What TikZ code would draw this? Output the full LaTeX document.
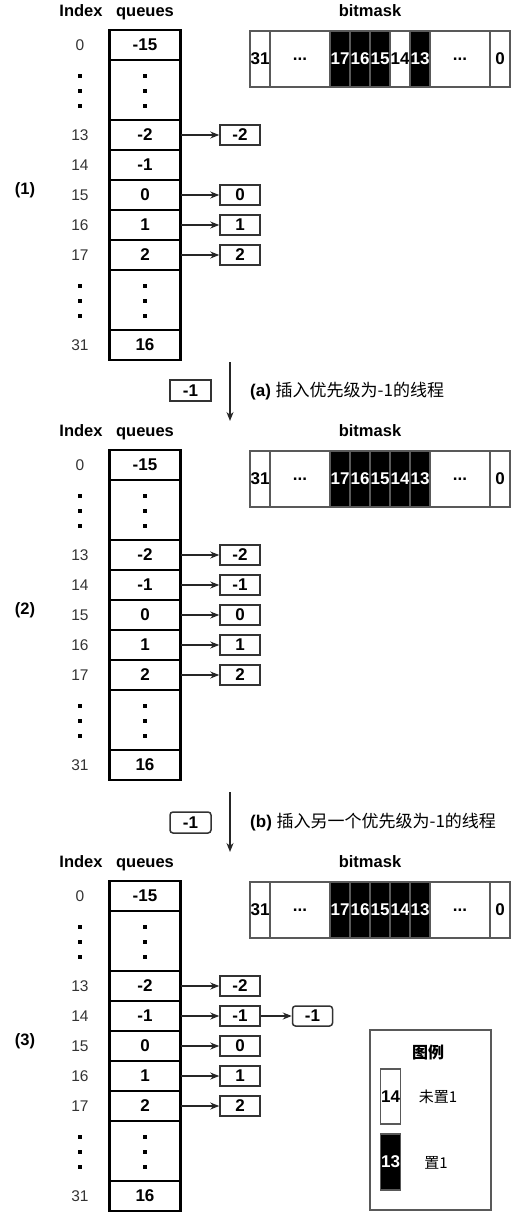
\documentclass[tikz,border=0pt]{standalone}
\usepackage{fontspec}
\setmainfont{Liberation Sans}
\newfontfamily\cjk{Noto Sans CJK SC}
\usetikzlibrary{arrows.meta,positioning,calc}

\begin{document}
\begin{tikzpicture}[x=1pt, y=-1pt,
    cell/.style={rectangle, draw=black, line width=2.5pt, outer sep=0pt, minimum width=71pt, minimum height=#1, inner sep=0pt, font=\fontsize{17}{20}\selectfont\bfseries},
    cell/.default=30pt,
    idx/.style={font=\fontsize{15.5}{18}\selectfont, text=black!80},
    head/.style={font=\fontsize{16.5}{19}\selectfont\bfseries, text height=12pt, text depth=3.5pt},
    qbox/.style={rectangle, draw=black!80, line width=1.5pt, fill=white, minimum width=40pt, minimum height=20pt, inner sep=0pt, font=\fontsize{17}{20}\selectfont\bfseries},
    bit/.style={rectangle, draw=black!65, line width=1.5pt, outer sep=0pt, minimum width=#1, minimum height=56pt, inner sep=0pt, font=\fontsize{17}{20}\selectfont\bfseries},
    bit/.default=20pt,
    steptext/.style={anchor=west, inner sep=0pt, font=\fontsize{17}{20}\selectfont},
    arr/.style={-{Stealth[length=9pt, width=7pt]}, line width=1.3pt, draw=black!85}
]
    \useasboundingbox (0,0) rectangle (512,1213);

    % three snapshots: queues on the left, bitmask on the right
    \foreach \p/\dy/\rows/\fc/\tc in {1/0/{13,15,16,17}/white/black, 2/420/{13,14,15,16,17}/black/white, 3/851/{13,14,15,16,17}/black/white}{
      \begin{scope}[yshift=-\dy pt]
        % headers
        \node[head] (h\p-idx) at (81,12) {Index};
        \node[head] (h\p-q) at (145,12) {queues};
        \node[head] (h\p-b) at (370,12) {bitmask};
        \node[head] (lbl\p) at (25,190) {(\p)};

        % queues column
        \node[cell] (q\p-0) at (145,45) {-15};
        \node[cell=60pt, below=0pt of q\p-0] (q\p-d1) {};
        \node[cell, below=0pt of q\p-d1] (q\p-13) {-2};
        \node[cell, below=0pt of q\p-13] (q\p-14) {-1};
        \node[cell, below=0pt of q\p-14] (q\p-15) {0};
        \node[cell, below=0pt of q\p-15] (q\p-16) {1};
        \node[cell, below=0pt of q\p-16] (q\p-17) {2};
        \node[cell=60pt, below=0pt of q\p-17] (q\p-d2) {};
        \node[cell, below=0pt of q\p-d2] (q\p-31) {16};

        % index numbers
        \foreach \r in {0,13,14,15,16,17,31}
          \node[idx] (i\p-\r) at ([xshift=-65pt]q\p-\r.center) {\r};
        \foreach \d in {d1,d2}
          \foreach \s in {-14,1,16}{
            \fill ($(q\p-\d.center)+(-2,\s-2)$) rectangle ++(4,4);
            \fill ($(q\p-\d.center)+(-67,\s-2)$) rectangle ++(4,4);
          }

        % threads hanging on the queues
        \foreach \r in \rows{
          \pgfmathtruncatemacro\v{\r-15}
          \node[qbox] (n\p-\r) at ([xshift=95pt]q\p-\r.center) {\v};
          \draw[arr] (q\p-\r) -- (n\p-\r);
        }

        % bitmask
        \node[bit] (b\p-31) at (260,59) {31};
        \node[bit=60pt, right=0pt of b\p-31] (b\p-hi) {...};
        \node[bit, fill=black, text=white, right=0pt of b\p-hi] (b\p-17) {17};
        \node[bit, fill=black, text=white, right=0pt of b\p-17] (b\p-16) {16};
        \node[bit, fill=black, text=white, right=0pt of b\p-16] (b\p-15) {15};
        \node[bit, fill=\fc, text=\tc, right=0pt of b\p-15] (b\p-14) {14};
        \node[bit, fill=black, text=white, right=0pt of b\p-14] (b\p-13) {13};
        \node[bit=60pt, right=0pt of b\p-13] (b\p-lo) {...};
        \node[bit, right=0pt of b\p-lo] (b\p-0) {0};
      \end{scope}
    }

    % second thread on queue 14
    \node[qbox, rounded corners=3pt, right=31pt of n3-14] (x3-14) {-1};
    \draw[arr] (n3-14) -- (x3-14);

    % step (a)
    \node[qbox, minimum width=41pt, minimum height=21pt] (new-a) at (190.5,390.5) {-1};
    \coordinate (a-top) at (230,362);
    \coordinate (a-end) at (230,421);
    \draw[arr] (a-top) -- (a-end);
    \node[steptext] (cap-a) at (250,391) {\textbf{(a)} {\cjk 插入优先级为-1的线程}};

    % step (b)
    \node[qbox, rounded corners=3pt, minimum width=41pt, minimum height=21pt] (new-b) at (190.5,822.5) {-1};
    \coordinate (b-top) at (230,792);
    \coordinate (b-end) at (230,852);
    \draw[arr] (b-top) -- (b-end);
    \node[steptext] (cap-b) at (250,822) {\textbf{(b)} {\cjk 插入另一个优先级为-1的线程}};

    % legend
    \node[rectangle, draw=black!65, line width=1.5pt, minimum width=121pt, minimum height=180pt] (legend) at (430.5,1120) {};
    \node[font=\cjk\fontsize{16}{19}\selectfont\bfseries] (leg-title) at (428,1052) {图例};
    \node[bit, minimum height=55pt] (key-off) at (390.5,1096.5) {14};
    \node[bit, fill=black, text=white, below=10pt of key-off] (key-on) {13};
    \node[font=\cjk\fontsize{15}{18}\selectfont] (txt-off) at (438,1097) {未置1};
    \node[font=\cjk\fontsize{15}{18}\selectfont] (txt-on) at (436,1163) {置1};

\end{tikzpicture}
\end{document}
